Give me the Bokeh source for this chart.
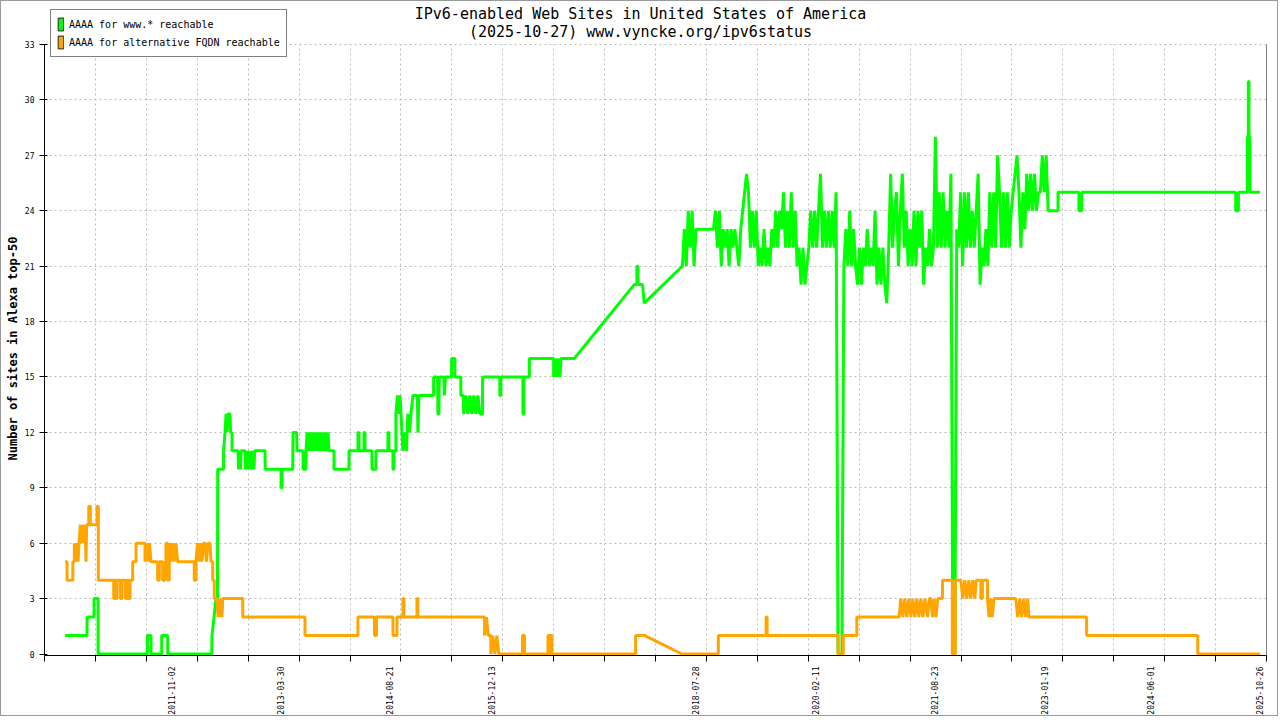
import math
from datetime import datetime
import numpy as np
from bokeh.plotting import figure
from bokeh.models import (Range1d, FixedTicker, DatetimeTickFormatter, LinearAxis,
                          Legend, LegendItem, Title, Label, Grid)
from bokeh.embed import file_html
from bokeh.resources import INLINE

# ---------------- texts ----------------
title_line1 = "IPv6-enabled Web Sites in United States of America"
title_line2 = "(2025-10-27) www.vyncke.org/ipv6status"
y_label = "Number of sites in Alexa top-50"
series_names = ["AAAA for www.* reachable", "AAAA for alternative FQDN reachable"]
x_label_dates = ["2011-11-02", "2013-03-30", "2014-08-21", "2015-12-13", "2018-07-28",
                 "2020-02-11", "2021-08-23", "2023-01-19", "2024-06-01", "2025-10-26"]
y_ticks = [0, 3, 6, 9, 12, 15, 18, 21, 24, 27, 30, 33]
x_span = [2010.203, 2025.905]          # decimal years shown on the x axis

# ---------------- AAAA for www.* (decimal year, sites) ----------------
www_x_a = [
    2010.468, 2010.750, 2010.750, 2010.840, 2010.840, 2010.892, 2010.892, 2011.527, 2011.527, 2011.572,
    2011.572, 2011.710, 2011.710, 2011.787, 2011.787, 2012.352, 2012.356, 2012.382, 2012.407, 2012.426,
    2012.429, 2012.504, 2012.504, 2012.523, 2012.536, 2012.549, 2012.561, 2012.587, 2012.594, 2012.613,
    2012.613, 2012.690, 2012.696, 2012.709, 2012.722, 2012.728, 2012.780, 2012.786, 2012.805, 2012.818,
    2012.831, 2012.844, 2012.857, 2012.870, 2012.883, 2012.895, 2012.902, 2013.037, 2013.037, 2013.242,
    2013.242, 2013.255, 2013.255, 2013.392, 2013.396, 2013.441, 2013.448, 2013.525, 2013.525, 2013.563,
    2013.563, 2013.576, 2013.595, 2013.615, 2013.634, 2013.653, 2013.672, 2013.692, 2013.711, 2013.730,
    2013.750, 2013.769, 2013.788, 2013.807, 2013.827, 2013.846, 2013.859, 2013.923, 2013.923, 2014.116,
    2014.116, 2014.231, 2014.231, 2014.244, 2014.244, 2014.308, 2014.308, 2014.321, 2014.321, 2014.411,
    2014.411, 2014.462, 2014.462, 2014.617, 2014.617, 2014.629, 2014.629, 2014.681, 2014.681, 2014.694,
    2014.694, 2014.719, 2014.719, 2014.739, 2014.758, 2014.771, 2014.784, 2014.797, 2014.809, 2014.835,
    2014.854, 2014.873, 2014.893, 2014.912, 2014.938, 2014.995, 2015.002, 2015.015, 2015.204, 2015.204,
    2015.255, 2015.259, 2015.272, 2015.276, 2015.336, 2015.342, 2015.355, 2015.435, 2015.435, 2015.477,
    2015.477, 2015.554, 2015.554, 2015.589, 2015.589, 2015.618, 2015.644, 2015.670, 2015.695, 2015.721,
    2015.747, 2015.773, 2015.798, 2015.833, 2015.833, 2016.055, 2016.055, 2016.068, 2016.068, 2016.351,
    2016.351, 2016.363, 2016.363, 2016.434, 2016.434, 2016.745, 2016.745, 2016.768, 2016.787, 2016.807,
    2016.826, 2016.839, 2017.010, 2017.780, 2017.815, 2017.815, 2017.828, 2017.828, 2017.888, 2017.909,
]
www_y_a = [
    1, 1, 2, 2, 3, 3, 0, 0, 1, 1,
    0, 0, 1, 1, 0, 0, 1, 2, 3, 3,
    10, 10, 11, 12, 13, 12, 13, 13, 12, 12,
    11, 11, 10, 11, 10, 11, 11, 10, 11, 10,
    11, 10, 11, 10, 11, 10, 11, 11, 10, 10,
    9, 9, 10, 10, 12, 12, 11, 11, 10, 10,
    11, 12, 11, 12, 11, 12, 11, 12, 11, 12,
    11, 12, 11, 12, 11, 12, 11, 11, 10, 10,
    11, 11, 12, 12, 11, 11, 12, 12, 11, 11,
    10, 10, 11, 11, 12, 12, 11, 11, 10, 10,
    11, 11, 13, 14, 13, 14, 13, 12, 11, 12,
    11, 13, 12, 13, 14, 14, 12, 14, 14, 15,
    15, 13, 13, 15, 15, 14, 15, 15, 16, 16,
    15, 15, 14, 14, 13, 14, 13, 14, 13, 14,
    13, 14, 13, 13, 15, 15, 14, 14, 15, 15,
    13, 13, 15, 15, 16, 16, 15, 16, 15, 16,
    15, 16, 16, 20, 20, 21, 21, 20, 20, 19,
]
# dense stretch 2018-2023, one reading every 0.025 year
www_dense_start = 2018.40
www_dense_step = 0.025
www_dense_y = [
    21, 23, 21, 24, 22, 24, 21, 23, 23, 23,
    23, 23, 23, 23, 23, 23, 23, 24, 22, 24,
    21, 23, 22, 23, 21, 23, 22, 23, 22, 21,
    23, 24, 25, 26, 25, 22, 24, 22, 24, 21,
    22, 21, 23, 21, 22, 21, 23, 22, 24, 22,
    24, 23, 25, 22, 24, 22, 25, 22, 24, 21,
    22, 20, 22, 20, 21, 22, 24, 22, 24, 22,
    24, 26, 22, 24, 22, 24, 22, 24, 22, 25,
    0, 0, 0, 21, 23, 21, 24, 21, 23, 21,
    20, 22, 20, 22, 21, 23, 21, 22, 21, 24,
    20, 22, 20, 22, 20, 19, 22, 26, 22, 24,
    25, 21, 24, 26, 22, 24, 21, 23, 21, 24,
    21, 24, 22, 24, 20, 22, 21, 23, 21, 22,
    28, 22, 25, 22, 25, 22, 24, 22, 26, 0,
    0, 23, 22, 25, 21, 25, 22, 25, 22, 24,
    22, 24, 26, 20, 22, 21, 23, 21, 25, 22,
    25, 22, 27, 25, 22, 25, 22, 25, 22, 24,
    25, 26, 27, 25, 22, 25, 23, 26, 24, 26,
    24, 26, 24, 25, 25, 27, 25, 27, 24, 24,
    24, 24, 24,
]
www_x_b = [2023.227, 2023.227, 2023.496, 2023.496, 2023.531, 2023.531, 2025.509, 2025.509, 2025.544, 2025.544,
           2025.659, 2025.659, 2025.672, 2025.672, 2025.680, 2025.680, 2025.692, 2025.692, 2025.821]
www_y_b = [24, 25, 25, 24, 24, 25, 25, 24, 24, 25,
           25, 28, 28, 31, 31, 28, 28, 25, 25]

# ---------------- AAAA for alternative FQDN (decimal year, sites) ----------------
alt_x = [
    2010.468, 2010.493, 2010.493, 2010.567, 2010.567, 2010.587, 2010.587, 2010.609, 2010.622, 2010.635,
    2010.647, 2010.664, 2010.680, 2010.692, 2010.712, 2010.725, 2010.737, 2010.744, 2010.772, 2010.772,
    2010.793, 2010.793, 2010.879, 2010.879, 2010.895, 2010.895, 2011.093, 2011.093, 2011.103, 2011.103,
    2011.123, 2011.123, 2011.136, 2011.136, 2011.181, 2011.181, 2011.200, 2011.200, 2011.245, 2011.245,
    2011.264, 2011.264, 2011.283, 2011.283, 2011.303, 2011.303, 2011.337, 2011.337, 2011.380, 2011.380,
    2011.495, 2011.495, 2011.514, 2011.534, 2011.553, 2011.572, 2011.658, 2011.658, 2011.679, 2011.679,
    2011.723, 2011.723, 2011.752, 2011.752, 2011.765, 2011.765, 2011.787, 2011.787, 2011.807, 2011.807,
    2011.829, 2011.848, 2011.872, 2011.893, 2011.915, 2012.128, 2012.128, 2012.150, 2012.150, 2012.170,
    2012.189, 2012.208, 2012.227, 2012.247, 2012.266, 2012.285, 2012.304, 2012.330, 2012.343, 2012.365,
    2012.365, 2012.385, 2012.385, 2012.420, 2012.433, 2012.446, 2012.459, 2012.471, 2012.484, 2012.493,
    2012.750, 2012.750, 2013.550, 2013.550, 2014.231, 2014.231, 2014.443, 2014.443, 2014.469, 2014.469,
    2014.681, 2014.681, 2014.732, 2014.732, 2014.809, 2014.809, 2014.822, 2014.822, 2014.989, 2014.989,
    2015.002, 2015.002, 2015.859, 2015.859, 2015.882, 2015.907, 2015.940, 2015.940, 2015.965, 2015.991,
    2016.017, 2016.042, 2016.345, 2016.345, 2016.372, 2016.372, 2016.672, 2016.672, 2016.691, 2016.691,
    2016.704, 2016.704, 2016.723, 2016.723, 2017.798, 2017.798, 2017.918, 2018.393, 2018.862, 2018.862,
    2019.476, 2019.476, 2019.489, 2019.489, 2020.401, 2020.401, 2020.467, 2020.467, 2020.641, 2020.641,
    2021.184, 2021.206, 2021.232, 2021.257, 2021.283, 2021.309, 2021.335, 2021.360, 2021.386, 2021.412,
    2021.437, 2021.463, 2021.489, 2021.514, 2021.549, 2021.572, 2021.591, 2021.613, 2021.634, 2021.656,
    2021.681, 2021.742, 2021.742, 2021.868, 2021.868, 2021.906, 2021.906, 2021.977, 2022.002, 2022.028,
    2022.054, 2022.080, 2022.105, 2022.131, 2022.157, 2022.176, 2022.234, 2022.234, 2022.255, 2022.255,
    2022.320, 2022.320, 2022.340, 2022.362, 2022.381, 2022.405, 2022.683, 2022.709, 2022.735, 2022.760,
    2022.786, 2022.812, 2022.837, 2022.854, 2023.595, 2023.595, 2025.021, 2025.021, 2025.824,
]
alt_y = [
    5, 5, 4, 4, 5, 5, 6, 5, 6, 5,
    6, 7, 6, 7, 6, 7, 5, 7, 7, 8,
    8, 7, 7, 8, 8, 4, 4, 3, 3, 4,
    4, 3, 3, 4, 4, 3, 3, 4, 4, 3,
    3, 4, 4, 3, 3, 4, 4, 5, 5, 6,
    6, 5, 6, 5, 6, 5, 5, 4, 4, 5,
    5, 4, 4, 5, 5, 6, 6, 4, 4, 6,
    5, 6, 5, 6, 5, 5, 4, 4, 5, 6,
    5, 6, 5, 6, 6, 5, 6, 6, 5, 5,
    4, 4, 3, 3, 2, 3, 2, 3, 2, 3,
    3, 2, 2, 1, 1, 2, 2, 1, 1, 2,
    2, 1, 1, 2, 2, 3, 3, 2, 2, 3,
    3, 2, 2, 1, 2, 1, 1, 0, 1, 0,
    1, 0, 0, 1, 1, 0, 0, 1, 1, 0,
    0, 1, 1, 0, 0, 1, 1, 0, 0, 1,
    1, 2, 2, 1, 1, 0, 0, 1, 1, 2,
    2, 3, 2, 3, 2, 3, 2, 3, 2, 3,
    2, 3, 2, 3, 2, 3, 3, 2, 3, 2,
    3, 3, 4, 4, 0, 0, 4, 4, 3, 4,
    3, 4, 3, 4, 3, 4, 4, 3, 3, 4,
    4, 3, 2, 3, 2, 3, 3, 2, 3, 2,
    3, 2, 3, 2, 2, 1, 1, 0, 0,
]

# ---------------- helpers ----------------
EPOCH = datetime(1970, 1, 1)


def yr_ms(yr):
    y = int(math.floor(yr))
    a, b = datetime(y, 1, 1), datetime(y + 1, 1, 1)
    return ((a + (b - a) * (yr - y)) - EPOCH).total_seconds() * 1000.0


def day_ms(s):
    return (datetime.strptime(s, "%Y-%m-%d") - EPOCH).total_seconds() * 1000.0


www_ms = ([yr_ms(v) for v in www_x_a]
          + [yr_ms(www_dense_start + i * www_dense_step) for i in range(len(www_dense_y))]
          + [yr_ms(v) for v in www_x_b])
www_vals = www_y_a + www_dense_y + www_y_b
alt_ms = [yr_ms(v) for v in alt_x]

FONT = "DejaVu Sans Mono"
GREEN = "#00ff00"
ORANGE = "#ffa500"
x0, x1 = yr_ms(x_span[0]), yr_ms(x_span[1])
grid_ms = list(np.linspace(x0, x1, 25))

# layout (pixels inside the figure canvas)
W, H = 1278, 716
BOTTOM_PANEL = 62
FRAME_BOTTOM = H - BOTTOM_PANEL      # frame bottom measured from canvas top
TOP_33 = 43                          # where the value 33 sits, from canvas top
Y0 = -0.08
px_per_unit = (FRAME_BOTTOM - TOP_33) / (33 - Y0)
Y1 = 33 + TOP_33 / px_per_unit

p = figure(width=W, height=H, x_axis_type="datetime",
           x_range=Range1d(x0, x1), y_range=Range1d(Y0, Y1),
           output_backend="svg", toolbar_location=None, title=None,
           min_border_left=0, min_border_right=13, min_border_top=0,
           min_border_bottom=BOTTOM_PANEL,
           background_fill_color="white", border_fill_color="white",
           outline_line_color=None,
           styles={"border": "1px solid #9a9a9a"})

# x axis: labels at given dates, small tick marks at grid positions
xa = p.xaxis[0]
xa.axis_label = None
xa.ticker = FixedTicker(ticks=[day_ms(d) for d in x_label_dates], minor_ticks=grid_ms)
fmt = "%Y-%m-%d"
xa.formatter = DatetimeTickFormatter(microseconds=fmt, milliseconds=fmt, seconds=fmt, minsec=fmt,
                                     minutes=fmt, hourmin=fmt, hours=fmt, days=fmt,
                                     months=fmt, years=fmt)
xa.major_label_orientation = math.pi / 2
xa.major_tick_line_color = None
xa.major_tick_out = 6
xa.major_tick_in = 0
xa.minor_tick_line_color = "black"
xa.minor_tick_out = 6
xa.minor_tick_in = 0
xa.major_label_standoff = 5
xa.major_label_text_font = FONT
xa.major_label_text_font_size = "8px"
xa.major_label_text_color = "black"
xa.axis_line_color = "black"

ya = p.yaxis[0]
ya.axis_label = None
ya.bounds = (Y0, 33)
ya.ticker = FixedTicker(ticks=y_ticks)
ya.major_tick_in = 3
ya.major_tick_out = 5
ya.minor_tick_line_color = None
ya.major_tick_line_color = "black"
ya.major_label_standoff = 5
ya.major_label_text_font = FONT
ya.major_label_text_font_size = "8px"
ya.major_label_text_color = "black"
ya.axis_line_color = "black"

# y-axis title, centred on the 0..33 span like the reference
ytitle = Title(text=y_label, align="left", offset=195, text_font=FONT, text_font_size="12px",
               text_font_style="bold", text_color="black")
if "standoff" in Title.properties():
    ytitle.standoff = 4
p.add_layout(ytitle, "left")

# right frame line
ra = LinearAxis(fixed_location=x1, bounds=(Y0, 33), ticker=FixedTicker(ticks=[]),
                major_tick_line_color=None, minor_tick_line_color=None,
                major_label_text_font_size="0px", axis_line_color="black")
p.add_layout(ra, "right")

# grids
p.xgrid[0].ticker = FixedTicker(ticks=grid_ms)
p.ygrid[0].ticker = FixedTicker(ticks=y_ticks[1:])
if "cross_bounds" in Grid.properties():
    p.xgrid[0].cross_bounds = (Y0, 33)
for g in (p.xgrid[0], p.ygrid[0]):
    g.grid_line_color = "#bbbbbb"
    g.grid_line_dash = "2 3"
    g.grid_line_width = 1

# data lines
p.line(x=www_ms, y=www_vals, line_color=GREEN, line_width=3)
p.line(x=alt_ms, y=alt_y, line_color=ORANGE, line_width=3)

# titles (inside the frame area, above the value 33)
for text, top in ((title_line1, 12), (title_line2, 30)):
    p.add_layout(Label(x=596, y=FRAME_BOTTOM - top, x_units="screen", y_units="screen", text=text,
                       text_align="center", text_baseline="middle", text_font=FONT,
                       text_font_size="15px", text_color="black"))

# legend swatches: quads with a single empty (NaN) row, used only for the legend boxes
nan = float("nan")
gq = p.quad(left=[nan], right=[nan], top=[nan], bottom=[nan], fill_color=GREEN, line_color="#222222")
oq = p.quad(left=[nan], right=[nan], top=[nan], bottom=[nan], fill_color=ORANGE, line_color="#222222")
legend = Legend(items=[LegendItem(label=series_names[0], renderers=[gq], index=0),
                       LegendItem(label=series_names[1], renderers=[oq], index=0)],
                location=(6, FRAME_BOTTOM - 56), orientation="vertical",
                border_line_color="black", border_line_width=1,
                background_fill_color="white", background_fill_alpha=1.0,
                padding=6, spacing=2, margin=0,
                glyph_width=7, glyph_height=16, label_height=16, label_standoff=5,
                label_text_font=FONT, label_text_font_size="10px", label_text_color="black")
p.add_layout(legend, "center")

open("out.html", "w").write(file_html(p, INLINE, title="IPv6 status"))
